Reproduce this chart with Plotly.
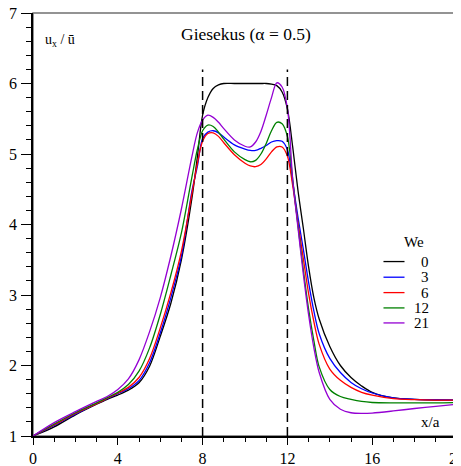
import plotly.graph_objects as go

# ---- data ----
x_pos = [0, 1, 2, 3, 3.5, 4, 4.5, 5, 5.5, 6, 6.5, 7, 7.5, 7.75, 8, 8.25, 8.5, 8.75, 9, 9.5, 10, 10.25,
         10.5, 10.75, 11, 11.25, 11.5, 11.75, 12, 12.25, 12.5, 12.75, 13, 13.25, 13.5, 14, 14.5,
         15, 15.5, 16, 17, 18, 19, 20]

we_0 = [1.0, 1.13, 1.30, 1.45, 1.52, 1.58, 1.65, 1.755, 1.99, 2.41, 2.88, 3.5, 4.38, 4.95, 5.55, 5.8,
        5.93, 5.98, 6.0, 6.0, 6.0, 6.0, 6.0, 6.0, 6.0, 5.99, 5.97, 5.88, 5.64, 5.1, 4.48, 3.95, 3.40,
        2.96, 2.66, 2.27, 2.0, 1.83, 1.71, 1.62, 1.54, 1.52, 1.51, 1.51]
we_3 = [1.0, 1.15, 1.31, 1.46, 1.53, 1.60, 1.67, 1.785, 2.04, 2.46, 2.96, 3.55, 4.48, 4.82, 5.22, 5.31,
        5.33, 5.3, 5.24, 5.13, 5.07, 5.05, 5.05, 5.08, 5.12, 5.17, 5.19, 5.18, 5.06, 4.6, 4.1, 3.65,
        3.18, 2.77, 2.45, 2.1, 1.9, 1.76, 1.67, 1.61, 1.54, 1.52, 1.515, 1.51]
we_6 = [1.0, 1.16, 1.32, 1.46, 1.535, 1.61, 1.69, 1.83, 2.10, 2.53, 3.03, 3.62, 4.44, 4.86, 5.18, 5.29,
        5.3, 5.25, 5.16, 4.99, 4.87, 4.83, 4.82, 4.85, 4.93, 5.03, 5.1, 5.1, 4.97, 4.55, 4.02, 3.52,
        3.02, 2.62, 2.3, 1.95, 1.79, 1.69, 1.62, 1.58, 1.53, 1.515, 1.51, 1.51]
we_12 = [1.0, 1.17, 1.33, 1.47, 1.545, 1.62, 1.73, 1.92, 2.25, 2.72, 3.28, 3.88, 4.68, 5.06, 5.33, 5.41,
         5.39, 5.31, 5.21, 5.03, 4.92, 4.89, 4.91, 5.0, 5.15, 5.33, 5.45, 5.43, 5.25, 4.64, 3.98, 3.36,
         2.8, 2.35, 1.98, 1.66, 1.56, 1.52, 1.49, 1.475, 1.47, 1.47, 1.47, 1.475]
we_21 = [1.0, 1.19, 1.345, 1.49, 1.56, 1.66, 1.81, 2.08, 2.48, 2.96, 3.55, 4.22, 4.97, 5.3, 5.48, 5.55,
         5.52, 5.45, 5.36, 5.2, 5.11, 5.1, 5.17, 5.32, 5.55, 5.8, 6.01, 5.95, 5.65, 4.64, 3.95, 3.3,
         2.72, 2.25, 1.9, 1.52, 1.38, 1.33, 1.32, 1.325, 1.355, 1.39, 1.42, 1.45]

series_names = ["0", "3", "6", "12", "21"]
series_values = [we_0, we_3, we_6, we_12, we_21]
series_colors = ["#000000", "#0000ff", "#ff0000", "#008000", "#9400d3"]

x_ticks = [0, 4, 8, 12, 16, 20]
y_ticks = [1, 2, 3, 4, 5, 6, 7]
dash_x = [8, 12]
dash_top = 6.2

title_text = "Giesekus (α = 0.5)"
y_label = "u<sub>x</sub> / ū"
x_label = "x/a"
legend_title = "We"

FONT = "Times New Roman, Liberation Serif, DejaVu Serif, serif"

fig = go.Figure()
for name, vals, col in zip(series_names, series_values, series_colors):
    fig.add_trace(go.Scatter(x=x_pos, y=vals, mode="lines", name=name,
                             line=dict(color=col, width=1.3, shape="spline", smoothing=0.9),
                             showlegend=False, hoverinfo="skip"))

shapes = []
for xv in dash_x:
    shapes.append(dict(type="line", xref="x", yref="y", x0=xv, x1=xv, y0=1, y1=dash_top,
                       line=dict(color="black", width=1.5, dash="9px,5px")))
# frame (top/right gray)
shapes.append(dict(type="rect", xref="paper", yref="paper", x0=0, x1=1, y0=0, y1=1,
                   line=dict(color="#707070", width=1.5), layer="below"))

annotations = [
    dict(text=title_text, x=0.502, y=0.951, xref="paper", yref="paper", showarrow=False,
         font=dict(family=FONT, size=17.5, color="black"), xanchor="center", yanchor="middle"),
    dict(text=y_label, x=0.024, y=0.935, xref="paper", yref="paper", showarrow=False,
         font=dict(family=FONT, size=14, color="black"), xanchor="left", yanchor="middle"),
    dict(text=x_label, x=0.937, y=0.033, xref="paper", yref="paper", showarrow=False,
         font=dict(family=FONT, size=15, color="black"), xanchor="center", yanchor="middle"),
    dict(text=legend_title, x=0.8975, y=0.4597, xref="paper", yref="paper", showarrow=False,
         font=dict(family=FONT, size=15, color="black"), xanchor="center", yanchor="middle"),
]

leg_y = [0.4124, 0.3754, 0.339, 0.3028, 0.2673]
for name, col, ly in zip(series_names, series_colors, leg_y):
    annotations.append(dict(text=name, x=0.939, y=ly, xref="paper", yref="paper", showarrow=False,
                            font=dict(family=FONT, size=15, color="black"),
                            xanchor="right", yanchor="middle"))
    shapes.append(dict(type="line", xref="paper", yref="paper", x0=0.8266, x1=0.8762, y0=ly, y1=ly,
                       line=dict(color=col, width=1.3)))

# the page adds an 8px body margin, so the figure is shrunk by 8px and margins compensated
fig.update_layout(
    width=453, height=458,
    margin=dict(l=25, r=4, t=5, b=30),
    paper_bgcolor="white", plot_bgcolor="white",
    font=dict(family=FONT, size=15, color="black"),
    shapes=shapes, annotations=annotations,
    showlegend=False,
)
fig.update_xaxes(range=[0, 20], tickvals=x_ticks, ticks="outside", ticklen=7, tickwidth=1.3,
                 tickcolor="black", showline=True, linecolor="black", linewidth=1.5,
                 showgrid=False, zeroline=False, automargin=False, ticklabeloverflow="allow",
                 minor=dict(dtick=1, ticks="outside", ticklen=4, tickwidth=1.2, tickcolor="black"),
                 tickfont=dict(family=FONT, size=16))
fig.update_yaxes(range=[1, 7], tickvals=y_ticks, ticks="outside", ticklen=10, tickwidth=1.3,
                 tickcolor="black", showline=True, linecolor="black", linewidth=1.5,
                 showgrid=False, zeroline=False, automargin=False, ticklabeloverflow="allow",
                 minor=dict(dtick=0.2, ticks="outside", ticklen=5, tickwidth=1.2, tickcolor="black"),
                 tickfont=dict(family=FONT, size=16), ticklabelstandoff=1)

fig.write_html("out.html")
